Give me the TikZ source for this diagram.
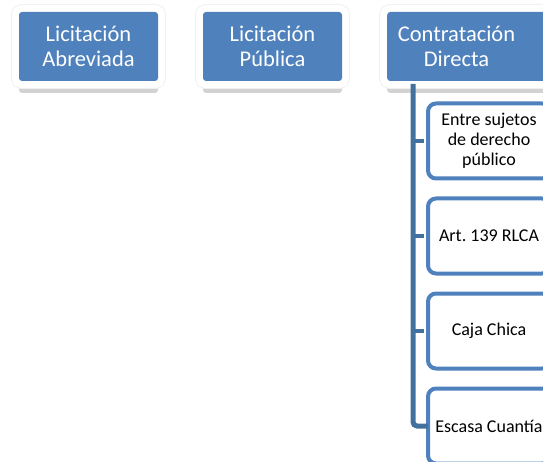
\documentclass[tikz,border=0pt]{standalone}
\usepackage{fontspec}
\setmainfont{Carlito}
\usetikzlibrary{positioning}
\definecolor{boxblue}{HTML}{4F81BD}
\definecolor{linkblue}{HTML}{41719C}
\definecolor{shadowgray}{HTML}{D2D2D2}

\begin{document}
\begin{tikzpicture}[x=1pt, y=-1pt,
    topbox/.style={rectangle, fill=boxblue, rounded corners=3pt,
      minimum width=139pt, minimum height=69pt, inner sep=0pt,
      text=white, align=center, font=\fontsize{22.5}{25}\selectfont,
      preaction={fill=shadowgray, transform canvas={yshift=-12pt}},
      preaction={draw=gray!12, line width=16pt},
      preaction={draw=white, line width=14pt}},
    toptext/.style={text=white, align=center, inner sep=0pt,
      font=\fontsize{22.5}{25}\selectfont},
    childbox/.style={rectangle, draw=boxblue, fill=white, line width=4pt,
      rounded corners=8pt, minimum width=122pt, minimum height=75pt,
      inner sep=0pt, align=center, font=\fontsize{18}{20}\selectfont},
    trunk/.style={draw=linkblue, line width=5pt, rounded corners=4pt},
    tick/.style={draw=linkblue, line width=4pt, shorten >=2pt}]
  \useasboundingbox (0,0) rectangle (543,462);
  \clip (0,0) rectangle (543,462);

  % ---- top row ----
  \node[topbox] (abreviada) at (88.5,46.5) {Licitación\\Abreviada};
  \node[topbox] (publica) at (272.5,46.5) {Licitación\\Pública};
  \node[topbox, minimum width=190pt, anchor=west] (directa) at (387,46.5) {};
  \node[toptext] (directa text) at (456.5,46.5) {Contratación\\Directa};

  % ---- branches of Contratación Directa ----
  \node[childbox] (entre) at (489,141) {Entre sujetos\\de derecho\\público};
  \node[childbox] (art) at (489,236) {Art.\ 139 RLCA};
  \node[childbox] (caja) at (489,331) {Caja Chica};
  \node[childbox] (escasa) at (489,426) {Escasa Cuantía};

  % trunk and ticks
  \coordinate (trunk top) at (413,84);
  \draw[trunk] (trunk top) |- ([xshift=2pt]escasa.west);
  \draw[tick] (trunk top |- entre.west) -- (entre.west);
  \draw[tick] (trunk top |- art.west) -- (art.west);
  \draw[tick] (trunk top |- caja.west) -- (caja.west);
\end{tikzpicture}
\end{document}
